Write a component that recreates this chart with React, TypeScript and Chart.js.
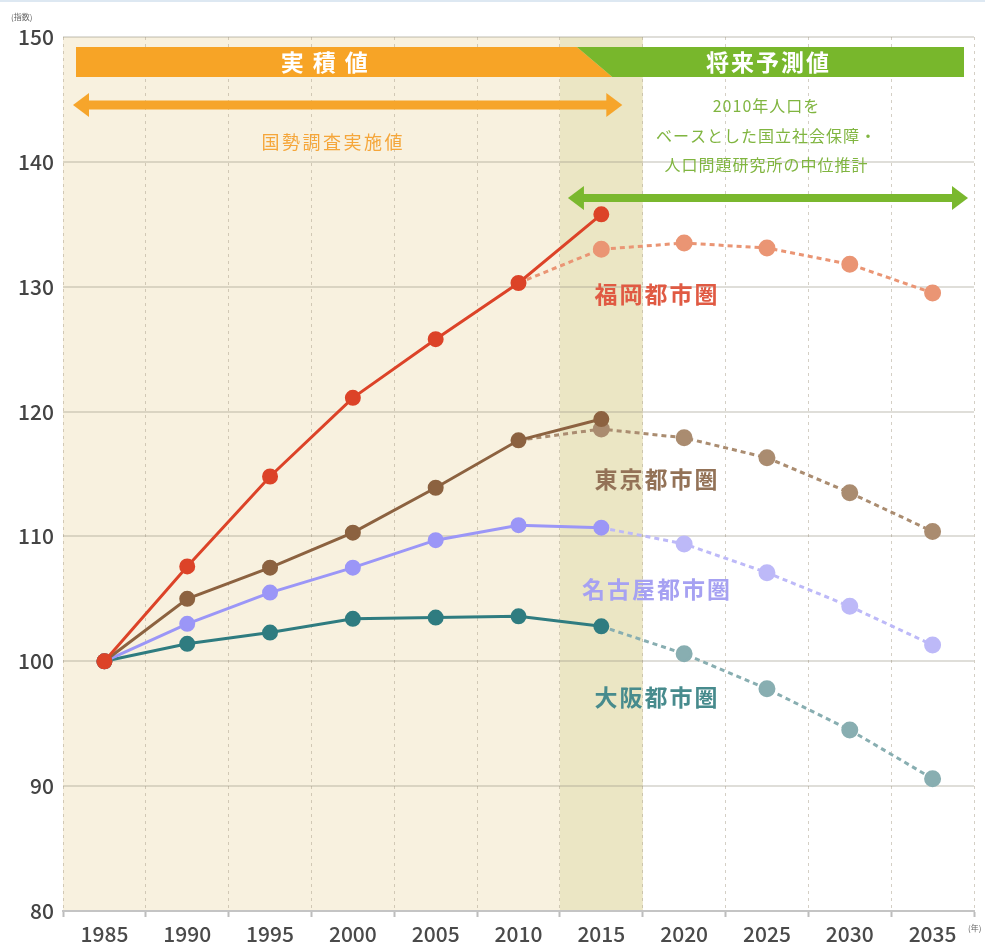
import React, { useEffect, useRef } from 'react';
import { Chart, registerables } from 'chart.js';
Chart.register(...registerables);

const years = ['1985', '1990', '1995', '2000', '2005', '2010', '2015', '2020', '2025', '2030', '2035'];
const yTicks = [80, 90, 100, 110, 120, 130, 140, 150];

const fukuokaActual = [100, 107.6, 114.8, 121.1, 125.8, 130.3, 135.8, null, null, null, null];
const fukuokaForecast = [null, null, null, null, null, 130.3, 133.0, 133.5, 133.1, 131.8, 129.5];
const tokyoActual = [100, 105.0, 107.5, 110.3, 113.9, 117.7, 119.4, null, null, null, null];
const tokyoForecast = [null, null, null, null, null, 117.7, 118.6, 117.9, 116.3, 113.5, 110.4];
const nagoyaActual = [100, 103.0, 105.5, 107.5, 109.7, 110.9, 110.7, null, null, null, null];
const nagoyaForecast = [null, null, null, null, null, null, 110.7, 109.4, 107.1, 104.4, 101.3];
const osakaActual = [100, 101.4, 102.3, 103.4, 103.5, 103.6, 102.8, null, null, null, null];
const osakaForecast = [null, null, null, null, null, null, 102.8, 100.6, 97.8, 94.5, 90.6];

const seriesNames = ['福岡都市圏', '東京都市圏', '名古屋都市圏', '大阪都市圏'];
const bannerActual = '実積値';
const bannerForecast = '将来予測値';
const actualNote = '国勢調査実施値';
const forecastNote = ['2010年人口を', 'ベースとした国立社会保障・', '人口問題研究所の中位推計'];
const yUnit = '(指数)';
const xUnit = '(年)';

const JP = '"Noto Sans CJK JP", "Noto Sans", sans-serif';

function firstIdx(arr: (number | null)[]) {
  return arr.findIndex((v) => v !== null);
}

function actualDs(label: string, data: (number | null)[], color: string) {
  return {
    label,
    data,
    borderColor: color,
    backgroundColor: color,
    pointBackgroundColor: color,
    pointBorderColor: color,
    borderWidth: 3,
    pointRadius: 6.5,
    pointHoverRadius: 6.5,
    spanGaps: false,
    tension: 0,
  };
}

function forecastDs(label: string, data: (number | null)[], color: string) {
  const start = firstIdx(data);
  return {
    label,
    data,
    borderColor: color,
    backgroundColor: color,
    pointBackgroundColor: color,
    pointBorderColor: color,
    borderWidth: 3,
    borderDash: [5, 4],
    pointRadius: (c: any) => (c.dataIndex === start ? 0 : 7),
    pointHoverRadius: 7,
    spanGaps: false,
    tension: 0,
  };
}

function doubleArrow(ctx: CanvasRenderingContext2D, x1: number, x2: number, y: number, color: string, shaft: number, headLen: number, headHalf: number) {
  ctx.save();
  ctx.fillStyle = color;
  ctx.fillRect(x1 + headLen - 1, y - shaft / 2, x2 - x1 - 2 * headLen + 2, shaft);
  ctx.beginPath();
  ctx.moveTo(x1, y);
  ctx.lineTo(x1 + headLen, y - headHalf);
  ctx.lineTo(x1 + headLen, y + headHalf);
  ctx.closePath();
  ctx.fill();
  ctx.beginPath();
  ctx.moveTo(x2, y);
  ctx.lineTo(x2 - headLen, y - headHalf);
  ctx.lineTo(x2 - headLen, y + headHalf);
  ctx.closePath();
  ctx.fill();
  ctx.restore();
}

function spacedText(ctx: CanvasRenderingContext2D, text: string, cx: number, cy: number, spacing: number) {
  const chars = Array.from(text);
  const widths = chars.map((c) => ctx.measureText(c).width);
  const total = widths.reduce((a, b) => a + b, 0) + spacing * (chars.length - 1);
  let x = cx - total / 2;
  ctx.textAlign = 'left';
  chars.forEach((c, i) => {
    ctx.fillText(c, x, cy);
    x += widths[i] + spacing;
  });
}

const bgPlugin = {
  id: 'bgBands',
  beforeDraw(chart: any) {
    const { ctx, chartArea: ca, scales } = chart;
    const x = scales.x;
    const half = (x.getPixelForValue(1) - x.getPixelForValue(0)) / 2;
    const creamEnd = x.getPixelForValue(6) + half;
    const bandStart = x.getPixelForValue(5) + half;
    ctx.save();
    ctx.fillStyle = '#ffffff';
    ctx.fillRect(0, 0, chart.width, chart.height);
    ctx.fillStyle = '#dde8f2';
    ctx.fillRect(0, 0, chart.width, 2);
    ctx.fillStyle = '#f8f1df';
    ctx.fillRect(ca.left, ca.top, creamEnd - ca.left, ca.bottom - ca.top);
    ctx.fillStyle = '#ebe6c4';
    ctx.fillRect(bandStart, ca.top, creamEnd - bandStart, ca.bottom - ca.top);
    ctx.restore();
  },
};

const overlayPlugin = {
  id: 'overlay',
  afterDraw(chart: any) {
    const { ctx, chartArea: ca, scales } = chart;
    const x = scales.x;
    const y = scales.y;
    const step = x.getPixelForValue(1) - x.getPixelForValue(0);
    const half = step / 2;
    const bandStart = x.getPixelForValue(5) + half;
    const p2015 = x.getPixelForValue(6);
    ctx.save();

    // banners
    const bTop = ca.top + 10;
    const bBot = ca.top + 40;
    const bLeft = ca.left + 13;
    const bRight = ca.right - 10;
    const diagTop = bandStart + 17;
    const diagBot = p2015 + 11;
    ctx.fillStyle = '#f7a426';
    ctx.beginPath();
    ctx.moveTo(bLeft, bTop);
    ctx.lineTo(diagTop, bTop);
    ctx.lineTo(diagBot, bBot);
    ctx.lineTo(bLeft, bBot);
    ctx.closePath();
    ctx.fill();
    ctx.fillStyle = '#78b72c';
    ctx.beginPath();
    ctx.moveTo(diagTop, bTop);
    ctx.lineTo(bRight, bTop);
    ctx.lineTo(bRight, bBot);
    ctx.lineTo(diagBot, bBot);
    ctx.closePath();
    ctx.fill();

    ctx.fillStyle = '#ffffff';
    ctx.textBaseline = 'middle';
    ctx.font = `bold 23px ${JP}`;
    spacedText(ctx, bannerActual, (bLeft + diagBot) / 2 - 20, (bTop + bBot) / 2, 9);
    spacedText(ctx, bannerForecast, (diagTop + bRight) / 2 - 3, (bTop + bBot) / 2, 2);

    // arrows
    doubleArrow(ctx, ca.left + 10, p2015 + 21, ca.top + 68, '#f6a52b', 9, 16, 12);
    doubleArrow(ctx, bandStart + 8, ca.right - 6, ca.top + 161, '#7ab82e', 8, 16, 12);

    // notes
    ctx.fillStyle = '#f5a63a';
    ctx.font = `18px ${JP}`;
    spacedText(ctx, actualNote, 332, ca.top + 105, 2.5);
    ctx.fillStyle = '#80b540';
    ctx.font = `16px ${JP}`;
    forecastNote.forEach((line, i) => {
      spacedText(ctx, line, 766, ca.top + 69 + i * 29.5, 1);
    });

    // series labels
    const lx = p2015 + 0.66 * step;
    ctx.font = `bold 23px ${JP}`;
    const labels: [string, number, string][] = [
      [seriesNames[0], 129.4, '#e05a43'],
      [seriesNames[1], 114.6, '#937257'],
      [seriesNames[2], 105.8, '#a6a1f2'],
      [seriesNames[3], 97.1, '#478b8d'],
    ];
    labels.forEach(([t, v, c]) => {
      ctx.fillStyle = c;
      spacedText(ctx, t, lx, y.getPixelForValue(v), 2);
    });

    // units
    ctx.fillStyle = '#666';
    ctx.font = `8px ${JP}`;
    ctx.textAlign = 'left';
    ctx.fillText(yUnit, 11, 17);
    ctx.fillText(xUnit, ca.right - 6, ca.bottom + 17);
    ctx.restore();
  },
};

export default function App() {
  const ref = useRef<HTMLCanvasElement>(null);
  useEffect(() => {
    document.body.style.margin = '0';
    const canvas = ref.current!;
    const chart = new Chart(canvas, {
      type: 'line',
      data: {
        labels: years,
        datasets: [
          actualDs(seriesNames[0], fukuokaActual, '#dc4328'),
          actualDs(seriesNames[1], tokyoActual, '#8c6240'),
          actualDs(seriesNames[2], nagoyaActual, '#9b96f7'),
          actualDs(seriesNames[3], osakaActual, '#2f7c80'),
          forecastDs(seriesNames[0], fukuokaForecast, '#ea9574'),
          forecastDs(seriesNames[1], tokyoForecast, '#aa8c70'),
          forecastDs(seriesNames[2], nagoyaForecast, '#bdb9f8'),
          forecastDs(seriesNames[3], osakaForecast, '#88aeb1'),
        ] as any,
      },
      options: {
        responsive: false,
        animation: false,
        layout: { padding: { top: 37, left: 0, right: 11, bottom: 0 } },
        plugins: { legend: { display: false }, tooltip: { enabled: false } },
        scales: {
          x: {
            offset: true,
            grid: {
              offset: true,
              color: 'rgba(170,160,140,0.5)',
              lineWidth: 1,
              drawTicks: true,
              tickLength: 6,
              tickColor: '#bdbdbd',
              tickBorderDash: [],
              tickWidth: 2,
            } as any,
            border: { display: true, color: '#c4c4c4', width: 2, dash: [3, 4] },
            ticks: {
              color: '#4a4a4a',
              font: { family: JP, size: 21, weight: 500 },
              padding: 4,
              maxRotation: 0,
              autoSkip: false,
            },
            afterFit(scale: any) {
              scale.height = 35;
            },
          },
          y: {
            min: 80,
            max: 150,
            afterBuildTicks(scale: any) {
              scale.ticks = yTicks.map((v) => ({ value: v }));
            },
            grid: {
              color: 'rgba(150,145,130,0.3)',
              lineWidth: 2,
              drawTicks: false,
            },
            border: { display: false },
            ticks: {
              color: '#444',
              font: { family: JP, size: 21, weight: 500 },
              padding: 9,
            },
            afterFit(scale: any) {
              scale.width = 63;
            },
          },
        },
      },
      plugins: [bgPlugin, overlayPlugin],
    });
    return () => chart.destroy();
  }, []);
  return (
    <div style={{ width: 985, height: 946 }}>
      <canvas ref={ref} width={985} height={946} />
    </div>
  );
}
